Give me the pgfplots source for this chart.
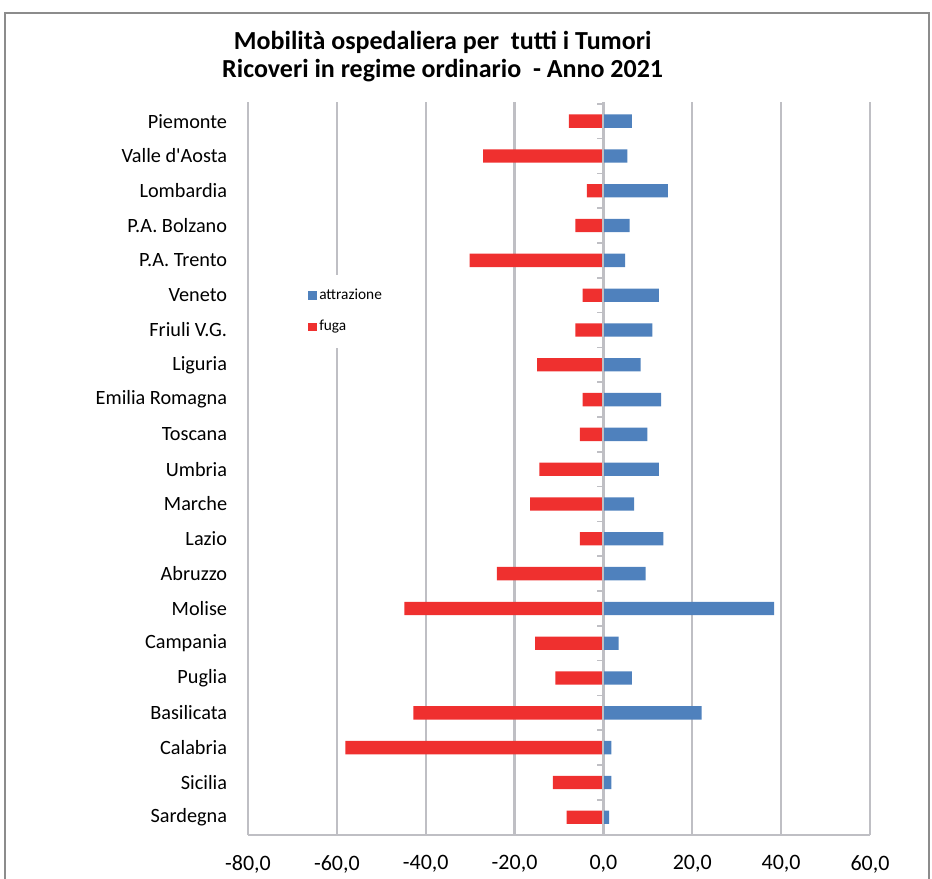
\documentclass[border=0pt]{standalone}
\usepackage{pgfplots}
\pgfplotsset{compat=1.18}
\usepackage{fontspec}
\setmainfont{Carlito}

\definecolor{attr}{HTML}{4F81BD}
\definecolor{fuga}{HTML}{EF302F}
\definecolor{gridgray}{HTML}{BFBFC4}
\definecolor{framegray}{HTML}{8C8C8C}

% 1 px of the reference = 0.75bp
\begin{document}
\begin{tikzpicture}
\useasboundingbox (0,0) rectangle (699bp,-659.25bp);
\draw[framegray, line width=1.1bp] (3.75bp,-660bp) -- (3.75bp,-9.75bp) -- (696.75bp,-9.75bp) -- (696.75bp,-660bp);

\node[font=\fontsize{19.5bp}{23bp}\selectfont\bfseries, anchor=base] at (332bp,-36.8bp) {Mobilità ospedaliera per\ \ tutti i Tumori};
\node[font=\fontsize{19.5bp}{23bp}\selectfont\bfseries, anchor=base] at (332bp,-57.8bp) {Ricoveri in regime ordinario\ \ - Anno 2021};

\begin{axis}[
    at={(186bp,-626.25bp)}, anchor=south west,
    scale only axis,
    width=466.5bp, height=549.75bp,
    xbar, bar shift=0pt, bar width=10bp,
    xmin=-80, xmax=60,
    xtick={-80,-60,...,60},
    ymin=-0.55, ymax=20.51,
    y dir=reverse,
    ytick={0,...,20},
    yticklabels={Piemonte,Valle d\textquotesingle Aosta,Lombardia,P.A. Bolzano,P.A. Trento,Veneto,Friuli V.G.,Liguria,Emilia Romagna,Toscana,Umbria,Marche,Lazio,Abruzzo,Molise,Campania,Puglia,Basilicata,Calabria,Sicilia,Sardegna},
    axis x line*=bottom, axis y line*=left,
    axis line style={draw=gridgray, line width=1.5bp, -},
    major tick length=0pt,
    xmajorgrids,
    major grid style={draw=gridgray, line width=1.7bp},
    /pgf/number format/assume math mode=true,
    xticklabel style={font=\fontsize{16.5bp}{20bp}\selectfont, inner sep=0pt, yshift=-15bp,
        /pgf/number format/.cd, fixed, fixed zerofill, precision=1, use comma},
    yticklabel style={font=\fontsize{15.2bp}{18bp}\selectfont, inner sep=0pt, xshift=-15.5bp},
    legend style={at={(rel axis cs:0.088,0.765)}, anchor=north west, draw=none, fill=white,
        font=\fontsize{11.5bp}{13bp}\selectfont, row sep=10bp, inner xsep=4bp, inner ysep=9bp,
        /tikz/every even column/.append style={column sep=1bp}},
    legend cell align=left,
    legend image code/.code={\fill[#1] (0bp,-3.1bp) rectangle (6.2bp,3.1bp);},
]
\addplot[fill=attr, draw=none] coordinates {
(6.4,0) (5.4,1) (14.5,2) (5.9,3) (4.9,4) (12.5,5) (11.0,6) (8.4,7) (13.0,8) (9.9,9)
(12.5,10) (6.9,11) (13.5,12) (9.5,13) (38.4,14) (3.4,15) (6.4,16) (22.1,17) (1.8,18) (1.8,19) (1.3,20)
};
\addlegendentry{attrazione}
\addplot[fill=fuga, draw=none] coordinates {
(-7.8,0) (-27.1,1) (-3.7,2) (-6.3,3) (-30.1,4) (-4.7,5) (-6.3,6) (-14.9,7) (-4.7,8) (-5.3,9)
(-14.4,10) (-16.5,11) (-5.3,12) (-24.0,13) (-44.8,14) (-15.4,15) (-10.8,16) (-42.8,17) (-58.1,18) (-11.4,19) (-8.3,20)
};
\addlegendentry{fuga}

% vertical axis at zero with its small ticks between categories
\draw[gridgray, line width=1.5bp] (axis cs:0,-0.55) -- (axis cs:0,20.51);
\pgfplotsinvokeforeach{-0.5,0.5,...,20.5}{
  \draw[gridgray, line width=1.2bp] (axis cs:0,#1) -- ++(-4.5bp,0bp);
}
\end{axis}
\end{tikzpicture}
\end{document}
